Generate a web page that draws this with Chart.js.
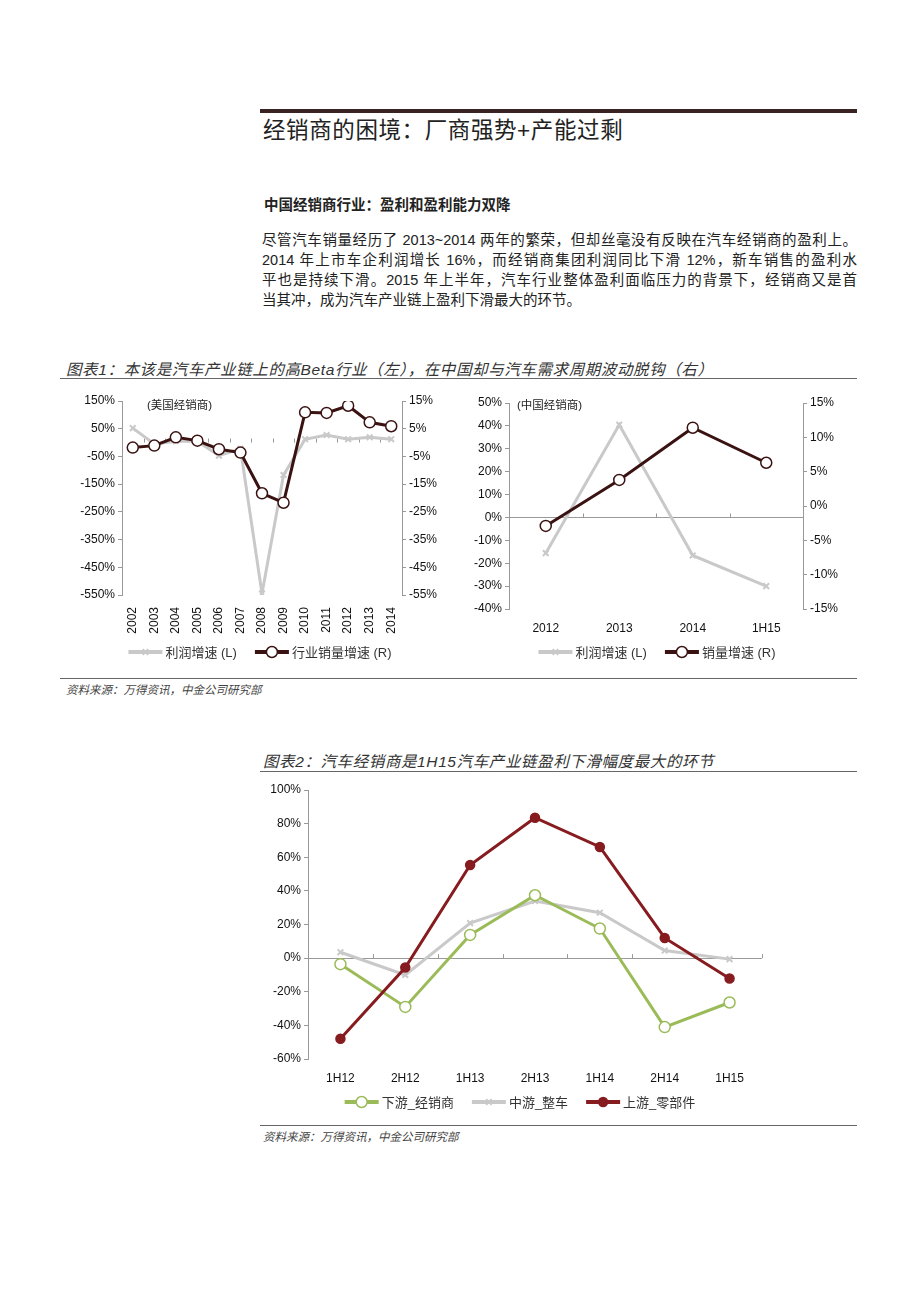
<!DOCTYPE html>
<html>
<head>
<meta charset="utf-8">
<script src="https://cdn.jsdelivr.net/npm/chart.js@4.4.0/dist/chart.umd.min.js"></script>
<style>
  body { margin: 0; background: #fff; width: 920px; height: 1302px; position: relative; color: #222;
         font-family: "Liberation Sans", "Noto Sans CJK SC", sans-serif; }
  .abs { position: absolute; }
  .rule { position: absolute; background: #666; height: 1px; }
  .cap { position: absolute; font-style: italic; font-size: 15.5px; letter-spacing: 0.6px; color: #333; white-space: nowrap; }
  .src { position: absolute; font-style: italic; font-size: 11.5px; color: #444; white-space: nowrap; }
  .para div { text-align: justify; text-align-last: justify; white-space: nowrap; }
  .para div.last { text-align-last: left; }
  .note { position: absolute; font-size: 11.5px; color: #222; white-space: nowrap; }
  .box { position: absolute; }
</style>
</head>
<body>
<div class="abs" style="left:260px;top:109px;width:597px;height:4px;background:#3a2323"></div>
<div class="abs" style="left:263px;top:116px;font-size:22.5px;letter-spacing:0.6px;line-height:30px;color:#222">经销商的困境：厂商强势+产能过剩</div>
<div class="abs" style="left:264px;top:195px;font-size:14.5px;font-weight:bold;line-height:20px">中国经销商行业：盈利和盈利能力双降</div>
<div class="abs para" style="left:262px;top:230px;width:595px;font-size:14.5px;line-height:20px">
  <div>尽管汽车销量经历了 2013~2014 两年的繁荣，但却丝毫没有反映在汽车经销商的盈利上。</div>
  <div>2014 年上市车企利润增长 16%，而经销商集团利润同比下滑 12%，新车销售的盈利水</div>
  <div>平也是持续下滑。2015 年上半年，汽车行业整体盈利面临压力的背景下，经销商又是首</div>
  <div class="last">当其冲，成为汽车产业链上盈利下滑最大的环节。</div>
</div>

<div class="cap" style="left:66px;top:357px">图表1：本该是汽车产业链上的高Beta行业（左），在中国却与汽车需求周期波动脱钩（右）</div>
<div class="rule" style="left:60px;top:378px;width:797px"></div>
<div class="box" style="left:60px;top:390px;width:390px;height:285px"><canvas id="usChart"></canvas></div>
<div class="box" style="left:460px;top:390px;width:400px;height:285px"><canvas id="cnChart"></canvas></div>
<div class="note" style="left:147px;top:396px">(美国经销商)</div>
<div class="note" style="left:517px;top:396px">(中国经销商)</div>
<div class="rule" style="left:60px;top:678px;width:797px"></div>
<div class="src" style="left:66px;top:681px">资料来源：万得资讯，中金公司研究部</div>

<div class="cap" style="left:263px;top:749px">图表2：汽车经销商是1H15汽车产业链盈利下滑幅度最大的环节</div>
<div class="rule" style="left:260px;top:771px;width:597px"></div>
<div class="box" style="left:255px;top:778px;width:515px;height:345px"><canvas id="chainChart"></canvas></div>
<div class="rule" style="left:260px;top:1125px;width:597px"></div>
<div class="src" style="left:263px;top:1128px">资料来源：万得资讯，中金公司研究部</div>

<script>
// 图表1 左：美国经销商
const usYears = ['2002', '2003', '2004', '2005', '2006', '2007', '2008', '2009', '2010', '2011', '2012', '2013', '2014'];
const usProfit = [52, -5, 5, 5, -47, -22, -545, -117, 12, 27, 12, 19, 12];
const usSales = [-1.8, -1.1, 1.9, 0.7, -2.4, -3.6, -18.3, -21.7, 10.9, 10.7, 13.3, 7.3, 5.9];

// 图表1 右：中国经销商
const cnPeriods = ['2012', '2013', '2014', '1H15'];
const cnProfit = [-15.6, 40.5, -16.6, -30];
const cnSales = [-2.9, 3.8, 11.4, 6.3];

// 图表2
const halves = ['1H12', '2H12', '1H13', '2H13', '1H14', '2H14', '1H15'];
const downstream = [-3.6, -29, 13.8, 37.4, 17.6, -41, -26.4];
const midstream = [3.5, -10, 20.8, 34, 27, 4.5, -0.6];
const upstream = [-48, -5.6, 55.4, 83.5, 66.1, 12, -12.1];

const FONT = '"Liberation Sans", "Noto Sans CJK SC", sans-serif';
const GREY = '#c9c9c9';
const BROWN = '#3b1212';
const RED = '#861c1f';
const GREEN = '#9bbb59';
const AXIS = '#999';

// small marker drawing, used by the legend
function marker(ctx, ds, x, y) {
  ctx.save();
  ctx.lineWidth = ds.pointBorderWidth;
  ctx.strokeStyle = ds.pointBorderColor;
  ctx.fillStyle = ds.pointBackgroundColor;
  const r = ds.pointRadius;
  if (ds.pointStyle === 'crossRot') {
    ctx.beginPath();
    ctx.moveTo(x - r * 0.7, y - r * 0.7); ctx.lineTo(x + r * 0.7, y + r * 0.7);
    ctx.moveTo(x + r * 0.7, y - r * 0.7); ctx.lineTo(x - r * 0.7, y + r * 0.7);
    ctx.stroke();
  } else {
    ctx.beginPath();
    ctx.arc(x, y, r, 0, Math.PI * 2);
    ctx.fill();
    ctx.stroke();
  }
  ctx.restore();
}

// legend drawn as line + marker + text
const lineLegend = {
  id: 'lineLegend',
  afterDraw(chart, args, opts) {
    const ctx = chart.ctx;
    ctx.save();
    ctx.font = '13px ' + FONT;
    const seg = 34, gap = 3, space = 18;
    const items = chart.data.datasets.map(ds => ({ ds, w: seg + gap + ctx.measureText(ds.label).width }));
    const total = items.reduce((s, it) => s + it.w, 0) + space * (items.length - 1);
    let x = opts.cx - total / 2;
    const y = opts.y;
    items.forEach(it => {
      const ds = it.ds;
      ctx.strokeStyle = ds.borderColor;
      ctx.lineWidth = 4;
      ctx.beginPath();
      ctx.moveTo(x, y); ctx.lineTo(x + seg, y);
      ctx.stroke();
      marker(ctx, ds, x + seg / 2, y);
      ctx.fillStyle = '#333';
      ctx.textBaseline = 'middle';
      ctx.fillText(ds.label, x + seg + gap, y + 1);
      x += it.w + space;
    });
    ctx.restore();
  }
};

// small tick marks along the zero line between categories
const zeroTicks = {
  id: 'zeroTicks',
  beforeDatasetsDraw(chart, args, opts) {
    const xs = chart.scales.x, ys = chart.scales[opts.axis];
    const y0 = ys.getPixelForValue(0);
    const n = chart.data.labels.length;
    const ctx = chart.ctx;
    ctx.save();
    ctx.strokeStyle = AXIS;
    ctx.lineWidth = 1;
    for (let i = 0; i <= n; i++) {
      const px = Math.round(xs.left + i * xs.width / n) + 0.5;
      ctx.beginPath();
      ctx.moveTo(px, y0); ctx.lineTo(px, y0 - 4);
      ctx.stroke();
    }
    ctx.restore();
  }
};

function yAxis(pos, min, max, step, width, zeroLine) {
  return {
    position: pos, min: min, max: max,
    afterFit: s => { s.width = width; },
    border: { color: AXIS },
    grid: {
      drawOnChartArea: zeroLine,
      color: c => (c.tick && c.tick.value === 0) ? AXIS : 'rgba(0,0,0,0)',
      tickColor: AXIS, tickLength: 4
    },
    ticks: { stepSize: step, padding: 3, color: '#111', font: { size: 12, family: FONT }, callback: v => v + '%' }
  };
}

function xAxis(height, rotate) {
  return {
    offset: true,
    afterFit: s => { s.height = height; },
    border: { display: false },
    grid: { display: false, offset: true },
    ticks: {
      autoSkip: false, color: '#111', font: { size: 12, family: FONT },
      maxRotation: rotate ? 90 : 0, minRotation: rotate ? 90 : 0, padding: 4
    }
  };
}

function greyLine(label, data, axis) {
  return {
    label, data, yAxisID: axis, borderColor: GREY, borderWidth: 3,
    pointStyle: 'crossRot', pointRadius: 4, pointBorderWidth: 2,
    pointBorderColor: GREY, pointBackgroundColor: GREY, order: 2
  };
}

function ringLine(label, data, axis, color, r) {
  return {
    label, data, yAxisID: axis, borderColor: color, borderWidth: 3,
    pointStyle: 'circle', pointRadius: r, pointBorderWidth: 1.5,
    pointBorderColor: color, pointBackgroundColor: '#fff', order: 1
  };
}

Chart.defaults.font.family = FONT;

new Chart(document.getElementById('usChart'), {
  type: 'line',
  data: {
    labels: usYears,
    datasets: [
      greyLine('利润增速 (L)', usProfit, 'y'),
      ringLine('行业销量增速 (R)', usSales, 'y1', BROWN, 5.5)
    ]
  },
  options: {
    responsive: true, maintainAspectRatio: false, animation: false,
    layout: { padding: { top: 11, bottom: 35, left: 0, right: 0 } },
    plugins: { legend: { display: false }, tooltip: { enabled: false },
               lineLegend: { cx: 200, y: 262 }, zeroTicks: { axis: 'y' } },
    scales: {
      x: xAxis(45, true),
      y: yAxis('left', -550, 150, 100, 62, true),
      y1: yAxis('right', -55, 15, 10, 48, false)
    }
  },
  plugins: [lineLegend, zeroTicks]
});

new Chart(document.getElementById('cnChart'), {
  type: 'line',
  data: {
    labels: cnPeriods,
    datasets: [
      greyLine('利润增速 (L)', cnProfit, 'y'),
      ringLine('销量增速 (R)', cnSales, 'y1', BROWN, 5.5)
    ]
  },
  options: {
    responsive: true, maintainAspectRatio: false, animation: false,
    layout: { padding: { top: 13, bottom: 38, left: 0, right: 0 } },
    plugins: { legend: { display: false }, tooltip: { enabled: false },
               lineLegend: { cx: 197, y: 262 }, zeroTicks: { axis: 'y' } },
    scales: {
      x: xAxis(28, false),
      y: yAxis('left', -40, 50, 10, 49, true),
      y1: yAxis('right', -15, 15, 5, 57, false)
    }
  },
  plugins: [lineLegend, zeroTicks]
});

const upDs = ringLine('上游_零部件', upstream, 'y', RED, 4.5);
upDs.pointBackgroundColor = RED;
upDs.order = 0;

new Chart(document.getElementById('chainChart'), {
  type: 'line',
  data: {
    labels: halves,
    datasets: [
      ringLine('下游_经销商', downstream, 'y', GREEN, 5.5),
      greyLine('中游_整车', midstream, 'y'),
      upDs
    ]
  },
  options: {
    responsive: true, maintainAspectRatio: false, animation: false,
    layout: { padding: { top: 12, bottom: 36, left: 0, right: 8 } },
    plugins: { legend: { display: false }, tooltip: { enabled: false },
               lineLegend: { cx: 265, y: 324 }, zeroTicks: { axis: 'y' } },
    scales: {
      x: xAxis(28, false),
      y: yAxis('left', -60, 100, 20, 53, true)
    }
  },
  plugins: [lineLegend, zeroTicks]
});
</script>
</body>
</html>
